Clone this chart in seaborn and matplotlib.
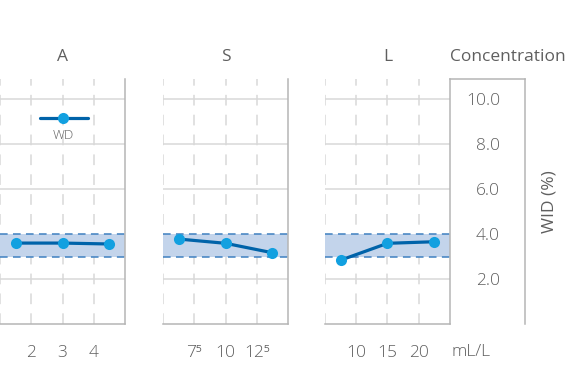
import matplotlib
matplotlib.use("Agg")
import matplotlib.pyplot as plt
import seaborn as sns
import pandas as pd

# --- data ---
panels = ["A", "S", "L"]
a_x = [1.5, 3.0, 4.5]
a_wid = [3.6, 3.6, 3.56]
s_x = [6.25, 10.0, 13.75]
s_wid = [3.78, 3.59, 3.17]
l_x = [7.5, 15.0, 22.5]
l_wid = [2.84, 3.59, 3.66]

a_ticks = [1, 2, 3, 4]
a_labels = ["", "2", "3", "4"]
s_ticks = [5, 7.5, 10, 12.5]
s_labels = ["", "7⁵", "10", "12⁵"]
l_ticks = [5, 10, 15, 20]
l_labels = ["", "10", "15", "20"]

band_low, band_high = 3.0, 4.0
y_ticks = [2.0, 4.0, 6.0, 8.0, 10.0]

df = pd.concat([
    pd.DataFrame({"panel": "A", "conc": a_x, "wid": a_wid}),
    pd.DataFrame({"panel": "S", "conc": s_x, "wid": s_wid}),
    pd.DataFrame({"panel": "L", "conc": l_x, "wid": l_wid}),
])
setup = {
    "A": (a_ticks, a_labels, (1, 5)),
    "S": (s_ticks, s_labels, (5, 15)),
    "L": (l_ticks, l_labels, (5, 25)),
}

# --- style ---
sns.set_theme(style="white")
plt.rcParams["font.family"] = ["Open Sans", "DejaVu Sans"]
plt.rcParams["font.weight"] = "light"
TXT = "#5f5f5f"
GRID = "#d9d9d9"
SPINE = "#b5b5b5"
LINE = "#0063a9"
DOT = "#12a0e0"
BAND = "#c3d4eb"
BAND_EDGE = "#3f80c0"
FS = 12.5

fig = plt.figure(figsize=(5.75, 3.82), dpi=100)
W, H = 575, 382
top, bottom = 79, 324


def px_axes(x0, x1):
    return fig.add_axes([x0 / W, 1 - bottom / H, (x1 - x0) / W, (bottom - top) / H])


lefts = {"A": (0, 125), "S": (163, 288), "L": (325, 450)}
axes = {}
for p in panels:
    ax = px_axes(*lefts[p])
    axes[p] = ax
    ticks, labels, xlim = setup[p]
    sub = df[df["panel"] == p]

    # horizontal grid (skip 4.0, covered by the band)
    for y in y_ticks:
        if y != 4.0:
            ax.axhline(y, color=GRID, lw=1.1, zorder=0)
    for x in ticks:
        ax.axvline(x, color=GRID, lw=1.1, ls=(0, (7, 6)), zorder=0)

    ax.axhspan(band_low, band_high, color=BAND, lw=0, zorder=1)
    for y in (band_low, band_high):
        ax.axhline(y, color=BAND_EDGE, lw=1.1, ls=(0, (5, 3.5)), zorder=2)

    sns.lineplot(data=sub, x="conc", y="wid", ax=ax, color=LINE, lw=2.3,
                 marker="o", markersize=8, markerfacecolor=DOT,
                 markeredgewidth=0, zorder=3)

    ax.set_xlim(*xlim)
    ax.set_ylim(0, 10.9)
    ax.set_xticks(ticks)
    ax.set_xticklabels(labels)
    ax.set_yticks([])
    ax.set_xlabel("")
    ax.set_ylabel("")
    ax.tick_params(axis="x", length=0, pad=15, labelsize=FS, labelcolor=TXT)
    ax.set_title(p, fontsize=FS, color=TXT, pad=13)
    for side in ("top", "left"):
        ax.spines[side].set_visible(False)
    for side in ("right", "bottom"):
        ax.spines[side].set_color(SPINE)
        ax.spines[side].set_linewidth(1.1)

# legend drawn inside panel A
axA = axes["A"]
axA.plot([0.32, 0.70], [0.84, 0.84], transform=axA.transAxes, color=LINE, lw=2.3)
axA.plot([0.505], [0.84], transform=axA.transAxes, marker="o", ms=8,
         color=DOT, mew=0)
axA.text(0.505, 0.77, "WD", transform=axA.transAxes, ha="center", va="center",
         fontsize=9.5, color=TXT)

# concentration / y-axis box
axY = px_axes(450, 525)
axY.set_ylim(0, 10.9)
axY.set_xlim(0, 1)
axY.set_xticks([])
axY.set_yticks(y_ticks)
axY.set_yticklabels([f"{v:.1f}" for v in y_ticks])
axY.tick_params(axis="y", length=0, pad=-36, labelsize=FS, labelcolor=TXT)
axY.spines["bottom"].set_visible(False)
axY.spines["left"].set_visible(False)
for side in ("top", "right"):
    axY.spines[side].set_color(SPINE)
    axY.spines[side].set_linewidth(1.1)
axY.set_facecolor("none")
axY.set_title("Concentration", loc="left", fontsize=FS, color=TXT, pad=13)
axY.yaxis.set_label_position("right")
axY.set_ylabel("WID (%)", fontsize=FS, color=TXT, labelpad=12)
axY.text(0.02, -0.115, "mL/L", transform=axY.transAxes, ha="left", va="center",
         fontsize=FS, color=TXT)

fig.savefig("out.png", dpi=100)
